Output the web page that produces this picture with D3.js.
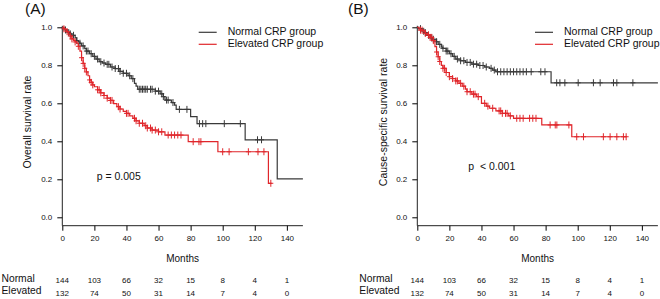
<!DOCTYPE html>
<html lang="en">
<head>
<meta charset="UTF-8">
<title>Kaplan-Meier by CRP group</title>
<script src="https://d3js.org/d3.v7.min.js"></script>
<style>
    body { margin: 0; background: #fff; font-family: "Liberation Sans", Arial, sans-serif; }
    svg text { fill: #111; }
</style>
</head>
<body>
<div id="chart"></div>
<script>
// Months on the x axis, risk table columns
const monthTicks = [0, 20, 40, 60, 80, 100, 120, 140];
const survTicks = [0, 0.2, 0.4, 0.6, 0.8, 1.0];
const riskNormal = [144, 103, 66, 32, 15, 8, 4, 1];
const riskElevated = [132, 74, 50, 31, 14, 7, 4, 0];

// (A) overall survival: [month, survival after event]
const osNormalSteps = [[1,0.993],[2,0.986],[3,0.979],[4,0.972],[5,0.965],[6,0.958],[8,0.944],[9,0.930],[10,0.923],[11,0.916],[12,0.902],[14,0.888],[15,0.875],[17,0.861],[19,0.847],[21,0.833],[23,0.819],[25,0.812],[27,0.805],[30,0.791],[33,0.783],[36,0.768],[38,0.758],[41,0.745],[43,0.730],[45,0.705],[46,0.690],[47,0.674],[58,0.664],[61,0.650],[63,0.635],[64,0.617],[68,0.604],[70,0.590],[71,0.568],[80,0.530],[84,0.493],[114,0.408],[134,0.202]];
const osNormalEnd = 150;
const osNormalCensor = [2,4,5,7,9,11,13,15,16,18,20,22,24,26,28,29,31,33,35,36,38,40,42,44,48,49,50,51,52,53,55,56,58,60,62,63,65,66,69,73,77.7,85.5,87.5,89.5,101,111,121.7,124.2];
const osElevSteps = [[1,0.992],[2,0.985],[3,0.977],[4,0.962],[5,0.954],[6,0.939],[7,0.931],[8,0.923],[9,0.916],[10,0.900],[11,0.875],[12,0.840],[13,0.810],[14,0.784],[15,0.765],[16,0.745],[17,0.723],[18,0.710],[19,0.697],[20,0.687],[22,0.671],[24,0.655],[26,0.641],[28,0.627],[30,0.615],[32,0.598],[34,0.582],[36,0.570],[38,0.558],[40,0.547],[42,0.534],[44,0.521],[46,0.508],[48,0.495],[51,0.482],[53,0.470],[56,0.459],[60,0.450],[64,0.433],[78.5,0.398],[97,0.345],[128.5,0.179]];
const osElevEnd = 130.5;
const osElevCensor = [1,3,5,6,8,10,12,13,14,15,17,18,19,22,23,24,26,28,30,31,35,36,40,41,45,46,48,50,52,53,55,56,58,60,62,66,68,70,72,74,81.6,85.2,86.4,100,104,116,122,125.7,130];

// (B) cause-specific survival
const cssNormalSteps = [[1,0.993],[3,0.986],[4,0.979],[5,0.972],[6,0.958],[8,0.944],[10,0.937],[12,0.924],[13,0.910],[15,0.896],[16,0.889],[18,0.875],[20,0.861],[22,0.847],[24,0.833],[27,0.824],[30,0.815],[34,0.806],[38,0.799],[42,0.791],[45,0.784],[47,0.775],[49,0.766],[83.4,0.708]];
const cssNormalEnd = 150;
const cssNormalCensor = [2,4,5,7,9,10,12,14,16,18,19,21,23,25,27,29,31,33,35,37,39,41,43,46,48,50,52,54,56,58,60,62,64,66,68,71,77,79.6,86.9,88.9,92,100.3,109.8,114,122.3,124.4,134.4];
const cssElevSteps = [[1,0.992],[2,0.985],[4,0.977],[5,0.968],[6,0.960],[8,0.947],[10,0.930],[11,0.898],[12,0.870],[13,0.845],[14,0.820],[15,0.800],[16,0.784],[18,0.762],[20,0.740],[22,0.730],[24,0.718],[26,0.705],[28,0.690],[30,0.675],[31,0.661],[34,0.648],[37,0.635],[40,0.600],[43,0.585],[45,0.574],[49,0.560],[53,0.547],[57,0.534],[60,0.521],[77.6,0.486],[96.3,0.424]];
const cssElevEnd = 130.6;
const cssElevCensor = [2,3,5,7,8,9,10,12,13,14,16,17,18,20,22,24,25,27,29,31,33,35,36,38,42,44,47,51,52,53,55,56,58,62,64,66,70,72,74,82.8,86,87,94.5,99.4,103.6,116,120.2,124.4,128.5,130.2];

const colNormal = "#3a3a3a";
const colElev = "#e0262b";

const svg = d3.select("#chart").append("svg")
    .attr("width", 660)
    .attr("height", 299);

// survival value at time t from a step list
function survAt(steps, t) {
    let s = 1;
    for (const [m, v] of steps) {
        if (m <= t) s = v;
    }
    return s;
}

function drawPanel(p) {
    const x = d3.scaleLinear().domain([0, 150]).range([p.left, p.left + 240.6]);
    const y = d3.scaleLinear().domain([0, 1]).range([217.3, 27.3]);
    const axisY = 225.7;
    const g = svg.append("g");

    // panel letter
    g.append("text")
        .attr("x", p.letterX).attr("y", 14)
        .style("font-size", "15.5px")
        .text(p.letter);

    // axes drawn like base R
    const xAxis = g.append("g")
        .attr("transform", `translate(0,${axisY})`)
        .call(d3.axisBottom(x).tickValues(monthTicks).tickSize(5).tickPadding(5).tickFormat(d3.format("d")));
    xAxis.select(".domain").attr("d", `M${x(0)},0H${x(150)}`).attr("stroke", "#222");
    xAxis.selectAll("text").style("font-size", "8px").style("font-family", "Liberation Sans, Arial, sans-serif");

    const yAxis = g.append("g")
        .attr("transform", `translate(${x(0)},0)`)
        .call(d3.axisLeft(y).tickValues(survTicks).tickSize(5).tickPadding(5).tickFormat(d3.format(".1f")));
    yAxis.select(".domain").attr("d", `M0,${y(1) - 1.5}V${axisY}`).attr("stroke", "#222");
    yAxis.selectAll("text").style("font-size", "8px").style("font-family", "Liberation Sans, Arial, sans-serif");

    g.append("text")
        .attr("transform", `translate(${p.ylabX},122) rotate(-90)`)
        .attr("text-anchor", "middle")
        .attr("dominant-baseline", "middle")
        .style("font-size", "10.5px")
        .text(p.ylab);

    g.append("text")
        .attr("x", x(75)).attr("y", 262)
        .attr("text-anchor", "middle")
        .style("font-size", "10px")
        .text("Months");

    // curves
    const line = d3.line().x(d => x(d[0])).y(d => y(d[1])).curve(d3.curveStepAfter);
    p.series.forEach(s => {
        const pts = [[0, 1], ...s.steps, [s.end, s.steps[s.steps.length - 1][1]]];
        g.append("path")
            .attr("d", line(pts))
            .attr("fill", "none")
            .attr("stroke", s.color)
            .attr("stroke-width", 1.2);
        const marks = g.append("g").attr("stroke", s.color).attr("stroke-width", 1);
        s.censor.forEach(t => {
            const cx = x(t), cy = y(survAt(s.steps, t));
            marks.append("path").attr("d", `M${cx},${cy - 3.5}V${cy + 3.5}M${cx - 2.5},${cy}H${cx + 2.5}`);
        });
    });

    // legend
    p.series.forEach((s, i) => {
        const ly = 32.3 + i * 12;
        g.append("line")
            .attr("x1", p.legX).attr("x2", p.legX + 18)
            .attr("y1", ly).attr("y2", ly)
            .attr("stroke", s.color).attr("stroke-width", 1.2);
        g.append("text")
            .attr("x", p.legX + 29).attr("y", ly)
            .attr("dominant-baseline", "middle")
            .style("font-size", "10.5px")
            .text(s.label);
    });

    // p value
    g.append("text")
        .attr("x", p.pX).attr("y", p.pY)
        .attr("dominant-baseline", "middle")
        .style("font-size", "10.5px")
        .style("white-space", "pre")
        .text(p.pText);

    // numbers at risk
    [["Normal", riskNormal, 280], ["Elevated", riskElevated, 292.5]].forEach(([name, vals, ry]) => {
        g.append("text")
            .attr("x", p.riskX).attr("y", ry - 1)
            .attr("dominant-baseline", "middle")
            .style("font-size", "10.3px")
            .text(name);
        g.selectAll(null)
            .data(vals)
            .enter()
            .append("text")
            .attr("x", (d, i) => x(monthTicks[i]))
            .attr("y", ry + 1)
            .attr("text-anchor", "middle")
            .attr("dominant-baseline", "middle")
            .style("font-size", "8px")
            .text(d => d);
    });
}

drawPanel({
    left: 62.3, letter: "(A)", letterX: 25, ylab: "Overall survival rate", ylabX: 28.5,
    legX: 198.7, pX: 96.7, pY: 177, pText: "p = 0.005", riskX: 1.5,
    series: [
        { label: "Normal CRP group", color: colNormal, steps: osNormalSteps, end: osNormalEnd, censor: osNormalCensor },
        { label: "Elevated CRP group", color: colElev, steps: osElevSteps, end: osElevEnd, censor: osElevCensor }
    ]
});

drawPanel({
    left: 417.3, letter: "(B)", letterX: 348, ylab: "Cause-specific survival rate", ylabX: 384,
    legX: 535, pX: 468.3, pY: 167, pText: "p  < 0.001", riskX: 359.3,
    series: [
        { label: "Normal CRP group", color: colNormal, steps: cssNormalSteps, end: cssNormalEnd, censor: cssNormalCensor },
        { label: "Elevated CRP group", color: colElev, steps: cssElevSteps, end: cssElevEnd, censor: cssElevCensor }
    ]
});
</script>
</body>
</html>
